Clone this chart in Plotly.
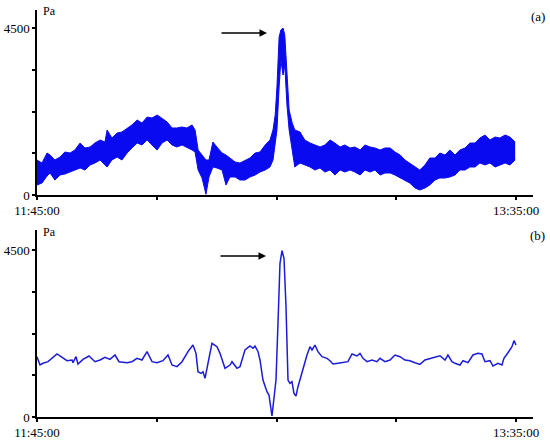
import plotly.graph_objects as go

# ---- data (minutes after 11:45:00, pressure in Pa) ----
top_t = [0.0, 1.15, 2.3, 3.0, 4.1, 5.3, 6.4, 7.6, 8.7, 9.9, 11.0, 12.2, 13.3, 14.5, 15.6, 16.1,
         17.2, 18.4, 19.5, 20.7, 21.8, 23.0, 24.1, 25.3, 26.4, 27.6, 28.7, 29.9, 31.0, 32.1, 33.3,
         34.4, 35.6, 36.3, 37.0, 37.9, 38.8, 39.5, 40.4, 41.3, 42.5, 43.4, 44.3, 45.5, 46.6, 47.8,
         48.9, 50.1, 51.2, 52.4, 53.5, 54.2, 54.7, 55.1, 55.6, 56.0, 56.5, 56.9, 57.4, 57.9, 58.6,
         59.2, 60.4, 61.5, 62.7, 63.8, 65.0, 66.1, 67.3, 68.4, 69.6, 70.7, 71.9, 73.0, 74.2, 75.3,
         76.5, 77.6, 78.8, 79.9, 81.1, 82.2, 83.4, 84.5, 85.6, 86.8, 87.9, 89.1, 90.2, 91.4, 92.5,
         93.7, 94.8, 96.0, 97.1, 98.3, 99.4, 100.6, 101.7, 102.9, 104.0, 105.2, 106.3, 107.5,
         108.6, 109.8]
top_upper = [943, 862, 1132, 1078, 943, 1024, 1159, 1132, 1213, 1401, 1267, 1294, 1401, 1482, 1428, 1752,
             1536, 1671, 1698, 1806, 1887, 2021, 1940, 2102, 2075, 2156, 2075, 1967, 1806, 1806, 1833,
             1806, 1887, 1752, 1213, 1078, 943, 943, 1428, 1294, 1132, 1078, 997, 889, 862, 943,
             997, 1132, 1159, 1348, 1482, 1752, 2156, 2911, 4258, 4447, 4500, 4312, 3234, 2291, 1940,
             1752, 1698, 1482, 1401, 1348, 1294, 1348, 1482, 1401, 1294, 1348, 1267, 1294, 1213, 1348,
             1294, 1267, 1213, 1267, 1267, 1159, 1078, 943, 862, 755, 674, 809, 997, 997, 1132,
             1078, 1213, 1078, 1213, 1267, 1401, 1401, 1536, 1617, 1482, 1563, 1536, 1617,
             1563, 1428]
top_lower = [270, 323, 512, 593, 404, 539, 566, 620, 674, 728, 674, 809, 862, 943, 809, 755,
             943, 1024, 943, 1132, 1267, 1401, 1348, 1482, 1348, 1213, 1401, 1482, 1348, 1294, 1348,
             1294, 1213, 1159, 674, 458, 20, 485, 755, 728, 674, 270, 485, 485, 404, 404,
             485, 539, 620, 674, 755, 943, 1482, 1752, 2911, 3638, 3234, 3504, 2426, 1752, 1213,
             755, 862, 809, 755, 674, 728, 620, 674, 539, 674, 620, 674, 620, 539, 674,
             620, 674, 539, 593, 593, 539, 458, 404, 323, 189, 135, 189, 270, 404, 458,
             458, 485, 539, 674, 674, 755, 755, 862, 809, 862, 755, 809, 862,
             809, 943]

bot_t = [0.0, 0.69, 1.38, 2.53, 4.59, 5.74, 6.89, 8.04, 8.27, 8.96, 9.41, 10.56, 11.94, 13.32,
         14.47, 15.61, 16.76, 17.91, 18.83, 20.67, 21.81, 22.96, 24.11, 25.26, 26.41, 27.55, 28.24,
         28.93, 30.08, 31.0, 32.15, 33.3, 34.67, 35.82, 36.51, 36.97, 37.66, 38.12, 38.58, 39.27,
         40.18, 41.33, 42.02, 43.17, 44.32, 44.78, 45.92, 46.61, 47.76, 48.91, 49.6, 50.06, 50.75,
         51.21, 51.89, 52.81, 53.27, 53.96, 54.19, 54.88, 55.34, 55.8, 56.26, 56.72, 57.18, 57.41,
         57.64, 58.09, 58.55, 59.01, 59.47, 59.93, 60.85, 62.0, 62.69, 63.15, 63.83, 64.52, 65.44,
         66.59, 67.28, 67.97, 69.12, 70.26, 71.41, 72.33, 73.48, 74.17, 74.86, 75.78, 76.92, 78.07,
         78.76, 79.91, 81.06, 82.2, 83.35, 84.5, 85.65, 86.8, 87.94, 89.09, 90.24, 91.39, 92.54,
         93.69, 94.37, 95.29, 95.98, 97.13, 97.82, 98.97, 100.11, 101.26, 102.18, 102.87, 104.02,
         104.71, 105.86, 106.77, 107.23, 108.15, 109.07, 109.53, 110.0]
bot_v = [1625, 1401, 1447, 1491, 1698, 1608, 1518, 1536, 1464, 1625, 1428, 1554, 1644, 1491,
         1536, 1608, 1554, 1671, 1491, 1464, 1491, 1581, 1536, 1761, 1491, 1464, 1491,
         1518, 1671, 1401, 1357, 1491, 1761, 1940, 1716, 1221, 1177, 1221, 1042, 1447,
         1986, 1895, 1716, 1312, 1401, 1491, 1312, 1357, 1806, 1913, 1851, 1913, 1761,
         1536, 997, 682, 593, 27, 278, 997, 2525, 4142, 4482, 4277, 2973, 1806,
         997, 908, 952, 638, 566, 817, 1221, 1671, 1895, 1806, 1940, 1761, 1625,
         1581, 1518, 1428, 1447, 1464, 1491, 1698, 1644, 1716, 1581, 1491, 1536, 1491,
         1581, 1491, 1536, 1671, 1625, 1536, 1518, 1464, 1419, 1536, 1581, 1625, 1652,
         1536, 1671, 1491, 1447, 1401, 1518, 1464, 1671, 1716, 1698, 1491, 1518,
         1374, 1447, 1401, 1581, 1733, 1895, 2057, 1940]

x_tickvals = [0, 27.5, 55, 82.5, 110]
x_ticktext = ["11:45:00", "", "", "", "13:35:00"]
y_tickvals = [0, 1125, 2250, 3375, 4500]
y_ticktext = ["0", "", "", "", "4500"]
panel_labels = ["(a)", "(b)"]
unit = "Pa"

BLUE = "#0a0af0"
FONT = "Liberation Serif, Times New Roman, serif"

fig = go.Figure()
fig.add_trace(go.Scatter(x=top_t, y=top_lower, mode="lines", line=dict(color=BLUE, width=1),
                         xaxis="x", yaxis="y", showlegend=False, hoverinfo="skip"))
fig.add_trace(go.Scatter(x=top_t, y=top_upper, mode="lines", line=dict(color=BLUE, width=1),
                         fill="tonexty", fillcolor=BLUE, xaxis="x", yaxis="y", showlegend=False))
fig.add_trace(go.Scatter(x=bot_t, y=bot_v, mode="lines", line=dict(color="#1c1cd8", width=1.5),
                         xaxis="x2", yaxis="y2", showlegend=False))

W, H = 550, 440
ml, mr, mt, mb = 37, 17, 10, 23
ph = H - mt - mb  # 407
top_dom = [(417 - 195) / ph, 1.0]
bot_dom = [0.0, (417 - 230) / ph]

xcommon = dict(range=[0, 113.9], tickvals=x_tickvals, ticktext=x_ticktext, showline=True,
               linecolor="black", linewidth=1.5, ticks="outside", ticklen=3, tickwidth=1.5,
               tickcolor="black", showgrid=False, zeroline=False, fixedrange=True, automargin=False,
               tickfont=dict(family=FONT, size=13, color="black"))
ycommon = dict(tickvals=y_tickvals, ticktext=y_ticktext, showline=True, linecolor="black",
               linewidth=1.5, ticks="outside", ticklen=3, tickwidth=1.5, tickcolor="black",
               showgrid=False, zeroline=False, fixedrange=True, automargin=False,
               tickfont=dict(family=FONT, size=13, color="black"))

fig.update_layout(
    width=W, height=H, margin=dict(l=ml, r=mr, t=mt, b=mb, autoexpand=False),
    plot_bgcolor="white", paper_bgcolor="white",
    xaxis=dict(xcommon, domain=[0, 1], anchor="y"),
    yaxis=dict(ycommon, domain=top_dom, range=[0, 4986], anchor="x"),
    xaxis2=dict(xcommon, domain=[0, 1], anchor="y2"),
    yaxis2=dict(ycommon, domain=bot_dom, range=[0, 5040], anchor="x2"),
)

pw = W - ml - mr


def px(xp):
    return (xp - ml) / pw


def py(yp):
    return (417 - yp) / ph


ann = []
for i, (ly, lab_x, lab_y, arr_y, arr_x) in enumerate([(11, 538, 17, 33, 267), (232, 537, 235, 256, 266)]):
    ann.append(dict(text=unit, x=px(41), y=py(ly), xref="paper", yref="paper", xanchor="left",
                    yanchor="middle", showarrow=False, font=dict(family=FONT, size=12, color="black")))
    ann.append(dict(text=panel_labels[i], x=px(lab_x), y=py(lab_y),
                    xref="paper", yref="paper", xanchor="center", yanchor="middle", showarrow=False,
                    font=dict(family=FONT, size=13, color="black")))
    ann.append(dict(text="", x=px(arr_x), y=py(arr_y), xref="paper", yref="paper", showarrow=True,
                    ax=-47, ay=0, arrowhead=2, arrowsize=1, arrowwidth=1.5, arrowcolor="black"))
fig.update_layout(annotations=ann)

fig.write_html("out.html", config={"displayModeBar": False},
               post_script="document.body.style.margin='0';document.body.style.overflow='hidden';")
